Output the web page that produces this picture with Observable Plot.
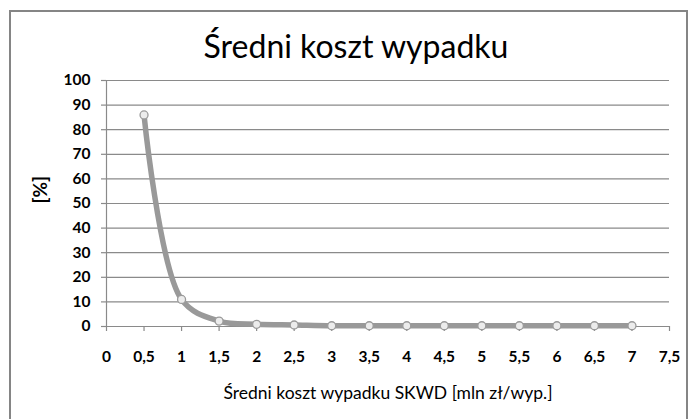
<!DOCTYPE html>
<html>
<head>
<meta charset="utf-8">
<script src="https://cdn.jsdelivr.net/npm/d3@7"></script>
<script src="https://cdn.jsdelivr.net/npm/@observablehq/plot@0.6"></script>
<style>
  html, body { margin: 0; padding: 0; background: #fff; }
  #wrap { position: relative; width: 695px; height: 419px; overflow: hidden; }
  #border { position: absolute; left: 9px; top: 10px; width: 679px; height: 420px;
            border: 2px solid #858585; box-sizing: border-box; }
  #chart { position: absolute; left: 0; top: 0; }
</style>
</head>
<body>
<div id="wrap"><div id="border"></div><div id="chart"></div></div>
<script>
const cost = [0.5, 1, 1.5, 2, 2.5, 3, 3.5, 4, 4.5, 5, 5.5, 6, 6.5, 7];
const share = [86, 11, 2.2, 0.9, 0.6, 0.3, 0.3, 0.3, 0.3, 0.3, 0.3, 0.3, 0.3, 0.3];
const xTicks = [0, 0.5, 1, 1.5, 2, 2.5, 3, 3.5, 4, 4.5, 5, 5.5, 6, 6.5, 7, 7.5];
const yTicks = [0, 10, 20, 30, 40, 50, 60, 70, 80, 90, 100];
const title = "Średni koszt wypadku";
const xLabel = "Średni koszt wypadku SKWD [mln zł/wyp.]";
const yLabel = "[%]";

const data = cost.map((x, i) => ({x, y: share[i]}));
const fmt = d => String(d).replace(".", ",");
const gridColor = "#8a8a8a";
const font = "Lato, 'Open Sans', sans-serif";

const chart = Plot.plot({
  width: 695,
  height: 419,
  marginLeft: 106,
  marginRight: 26,
  marginTop: 80,
  marginBottom: 93,
  style: {fontFamily: font, background: "transparent", overflow: "visible"},
  x: {domain: [0, 7.5]},
  y: {domain: [0, 100]},
  marks: [
    Plot.gridY(yTicks, {stroke: gridColor, strokeOpacity: 1, strokeWidth: 1.2}),
    Plot.ruleX([0], {stroke: gridColor, strokeWidth: 1.2}),
    Plot.ruleY([0], {stroke: gridColor, strokeWidth: 1.2}),
    Plot.axisY(yTicks, {tickSize: 5, tickPadding: 11, stroke: gridColor, strokeWidth: 1.2,
      fill: "#000", fontSize: 15.5, fontWeight: "bold", label: null, tickFormat: d => String(d)}),
    Plot.axisX(xTicks, {tickSize: 5, tickPadding: 19, stroke: gridColor, strokeWidth: 1.2,
      fill: "#000", fontSize: 15.5, fontWeight: "bold", label: null, tickFormat: fmt}),
    Plot.line(data, {x: "x", y: "y", curve: "catmull-rom", stroke: "#999999", strokeWidth: 5.5}),
    Plot.dot(data, {x: "x", y: "y", r: 4, fill: "#ececec", stroke: "#9a9a9a", strokeWidth: 1.3}),
    Plot.text([title], {frameAnchor: "top", dx: -32, dy: -45, fontSize: 32, fill: "#000",
      fontFamily: font, text: d => d}),
    Plot.text([xLabel], {frameAnchor: "bottom", dy: 72, fontSize: 17.5, fill: "#000",
      fontFamily: font, text: d => d}),
    Plot.text([yLabel], {frameAnchor: "left", dx: -66, rotate: -90, fontSize: 19, fontWeight: "bold",
      fill: "#000", fontFamily: font, text: d => d})
  ]
});
document.getElementById("chart").appendChild(chart);
</script>
</body>
</html>
